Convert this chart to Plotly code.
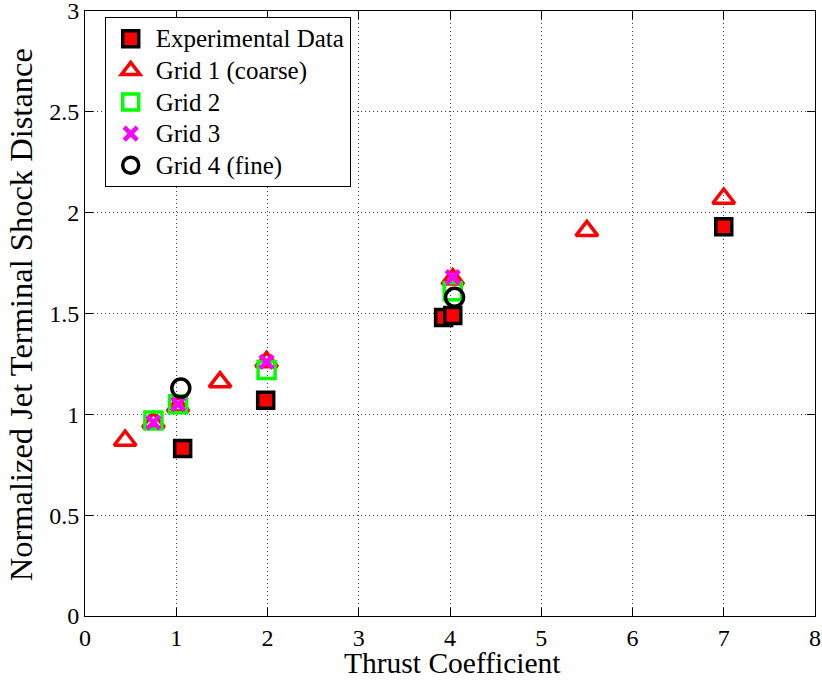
import plotly.graph_objects as go

exp_x = [1.07, 1.98, 3.93, 4.03, 7.0]
exp_y = [0.83, 1.07, 1.48, 1.49, 1.93]
g1_x = [0.44, 0.75, 1.02, 1.48, 1.99, 4.03, 5.5, 7.0]
g1_y = [0.87, 0.96, 1.04, 1.16, 1.26, 1.67, 1.91, 2.07]
g2_x = [0.75, 1.02, 1.99, 4.03]
g2_y = [0.97, 1.05, 1.22, 1.61]
g3_x = [0.75, 1.02, 1.99, 4.03]
g3_y = [0.96, 1.05, 1.26, 1.68]
g4_x = [1.05, 4.05]
g4_y = [1.13, 1.58]

series_names = ["Experimental Data", "Grid 1 (coarse)", "Grid 2", "Grid 3", "Grid 4 (fine)"]
x_title = "Thrust Coefficient"
y_title = "Normalized Jet Terminal Shock Distance"

font_family = "Liberation Serif, Times New Roman, serif"


def legend_label(s):
    return "<span style='font-size:25px'>" + s + "</span>"


fig = go.Figure()
fig.add_trace(go.Scatter(x=exp_x, y=exp_y, mode="markers", name=legend_label(series_names[0]),
                         marker=dict(symbol="square", size=16, color="red",
                                     line=dict(color="black", width=3.5))))
fig.add_trace(go.Scatter(x=g1_x, y=g1_y, mode="markers", name=legend_label(series_names[1]),
                         marker=dict(symbol="triangle-up-open", size=19, color="red",
                                     line=dict(color="red", width=3.5))))
fig.add_trace(go.Scatter(x=g2_x, y=g2_y, mode="markers", name=legend_label(series_names[2]),
                         marker=dict(symbol="square-open", size=17, color="#00ff00",
                                     line=dict(color="#00ff00", width=3.5))))
fig.add_trace(go.Scatter(x=g3_x, y=g3_y, mode="markers", name=legend_label(series_names[3]),
                         marker=dict(symbol="x-thin-open", size=13, color="magenta",
                                     line=dict(color="magenta", width=4.5))))
fig.add_trace(go.Scatter(x=g4_x, y=g4_y, mode="markers", name=legend_label(series_names[4]),
                         marker=dict(symbol="circle-open", size=18, color="black",
                                     line=dict(color="black", width=3.5))))

axis_common = dict(showline=True, linecolor="black", linewidth=1, mirror="ticks",
                   ticks="inside", ticklen=8, tickcolor="black", automargin=False,
                   ticklabeloverflow="allow",
                   showgrid=True, gridcolor="#444444", griddash="1px,3px", gridwidth=1,
                   zeroline=False, tickfont=dict(size=24, color="black", family=font_family))

fig.update_xaxes(range=[0, 8], dtick=1, **axis_common)
fig.update_yaxes(range=[0, 3], dtick=0.5, tickformat="~g", **axis_common)

fig.add_annotation(text=x_title, xref="paper", yref="paper", x=0.503, y=0,
                   xanchor="center", yanchor="middle", yshift=-47, showarrow=False,
                   font=dict(size=29.5, color="black", family=font_family))
fig.add_annotation(text=y_title, xref="paper", yref="paper", x=0, y=0.497,
                   xanchor="center", yanchor="middle", xshift=-64, textangle=-90,
                   showarrow=False,
                   font=dict(size=32.5, color="black", family=font_family))

fig.update_layout(
    width=822, height=681,
    margin=dict(l=85, r=7, t=11, b=65),
    paper_bgcolor="white", plot_bgcolor="white",
    font=dict(family=font_family, color="black"),
    showlegend=True,
    legend=dict(x=0.027, y=0.99, xanchor="left", yanchor="top",
                bgcolor="white", bordercolor="black", borderwidth=1,
                font=dict(size=22, family=font_family, color="black"),
                itemsizing="trace", itemwidth=40, tracegroupgap=0),
)

fig.write_html("out.html", config={"displayModeBar": False},
               post_script="document.body.style.margin='0px';")
